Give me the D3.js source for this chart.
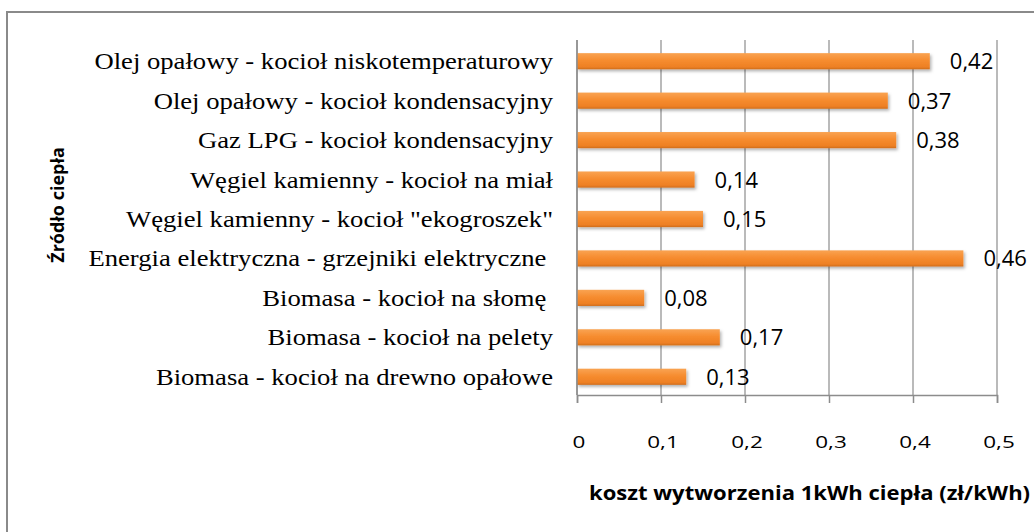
<!DOCTYPE html>
<html>
<head>
<meta charset="utf-8">
<script src="https://cdn.jsdelivr.net/npm/d3@7"></script>
<style>
    body { margin: 0; background: #fff; }
    svg { display: block; }
</style>
</head>
<body>
<div id="chart"></div>
<script>
const categories = [
    'Olej opałowy - kocioł niskotemperaturowy',
    'Olej opałowy - kocioł kondensacyjny',
    'Gaz LPG - kocioł kondensacyjny',
    'Węgiel kamienny - kocioł na miał',
    'Węgiel kamienny - kocioł "ekogroszek"',
    'Energia elektryczna - grzejniki elektryczne\u00a0',
    'Biomasa - kocioł na słomę\u00a0',
    'Biomasa - kocioł na pelety',
    'Biomasa - kocioł na drewno opałowe'
];
const values = [0.42, 0.37, 0.38, 0.14, 0.15, 0.46, 0.08, 0.17, 0.13];
const xTicks = [0, 0.1, 0.2, 0.3, 0.4, 0.5];
const xTitle = 'koszt wytworzenia 1kWh ciepła (zł/kWh)';
const yTitle = 'Źródło ciepła';

const width = 1034;
const height = 532;
const plot = { left: 577, right: 997, top: 40, bottom: 395 };

const serif = '"Liberation Serif"';
const sans = '"Open Sans"';
const fmt = v => String(v).replace('.', ',');

const svg = d3.select("#chart")
    .append("svg")
    .attr("width", width)
    .attr("height", height);

// gradient + shadow for the bars (Excel-ish look)
const defs = svg.append("defs");
const grad = defs.append("linearGradient")
    .attr("id", "barGrad")
    .attr("x1", 0).attr("y1", 0).attr("x2", 0).attr("y2", 1);
grad.append("stop").attr("offset", "0%").attr("stop-color", "#f9a352");
grad.append("stop").attr("offset", "45%").attr("stop-color", "#f68c2f");
grad.append("stop").attr("offset", "85%").attr("stop-color", "#ee8024");
grad.append("stop").attr("offset", "100%").attr("stop-color", "#cf6d1c");

const shadow = defs.append("filter")
    .attr("id", "shadow")
    .attr("x", "-5%").attr("y", "-30%")
    .attr("width", "115%").attr("height", "180%");
shadow.append("feDropShadow")
    .attr("dx", 1.5).attr("dy", 2)
    .attr("stdDeviation", 1.5)
    .attr("flood-color", "#000")
    .attr("flood-opacity", 0.3);

// chart border
svg.append("rect")
    .attr("x", 7).attr("y", 12)
    .attr("width", width + 20).attr("height", height + 20)
    .attr("fill", "none")
    .attr("stroke", "#8a8a8a")
    .attr("stroke-width", 2);

const x = d3.scaleLinear()
    .domain([0, 0.5])
    .range([plot.left, plot.right]);

const y = d3.scaleBand()
    .domain(categories)
    .range([plot.top + 1.5, plot.bottom + 1.5])
    .paddingInner(0.59)
    .paddingOuter(0.295);

// vertical gridlines
svg.append("g")
    .selectAll("line")
    .data(xTicks)
    .enter()
    .append("line")
    .attr("x1", d => x(d)).attr("x2", d => x(d))
    .attr("y1", plot.top).attr("y2", plot.bottom)
    .attr("stroke", "#8c8c8c")
    .attr("stroke-width", 1.2);

// bottom axis with ticks
const xAxis = svg.append("g")
    .attr("transform", `translate(0, ${plot.bottom})`)
    .call(d3.axisBottom(x).tickValues(xTicks).tickSize(8).tickFormat(""));
xAxis.select(".domain").attr("stroke", "#8c8c8c").attr("stroke-width", 1.5);
xAxis.selectAll(".tick line").attr("stroke", "#8c8c8c").attr("stroke-width", 1.5);

// tick labels (stretched like the original)
svg.append("g")
    .selectAll("text")
    .data(xTicks)
    .enter()
    .append("text")
    .attr("transform", d => `translate(${x(d) + 2}, 448) scale(1.45, 1)`)
    .attr("text-anchor", "middle")
    .style("font-family", sans)
    .style("font-size", "15.5px")
    .attr("fill", "#000")
    .text(d => fmt(d));

// bars
svg.append("g")
    .selectAll("rect")
    .data(values)
    .enter()
    .append("rect")
    .attr("x", x(0))
    .attr("y", (d, i) => y(categories[i]))
    .attr("width", d => x(d) - x(0))
    .attr("height", y.bandwidth())
    .attr("fill", "url(#barGrad)")
    .attr("filter", "url(#shadow)");

// left axis line
svg.append("line")
    .attr("x1", plot.left).attr("x2", plot.left)
    .attr("y1", plot.top).attr("y2", plot.bottom)
    .attr("stroke", "#8c8c8c")
    .attr("stroke-width", 1.5);

// value labels
svg.append("g")
    .selectAll("text")
    .data(values)
    .enter()
    .append("text")
    .attr("x", d => x(d) + 20)
    .attr("y", (d, i) => y(categories[i]) + y.bandwidth() / 2 + 8)
    .style("font-family", sans)
    .style("font-size", "22px")
    .attr("fill", "#000")
    .text(d => fmt(d));

// category labels
svg.append("g")
    .selectAll("text")
    .data(categories)
    .enter()
    .append("text")
    .attr("transform", d => `translate(553, ${y(d) + y.bandwidth() / 2 + 8}) scale(1.11, 1)`)
    .attr("text-anchor", "end")
    .style("font-family", serif)
    .style("font-size", "24px")
    .attr("fill", "#000")
    .text(d => d);

// axis titles
svg.append("text")
    .attr("transform", "translate(589, 500) scale(1.13, 1)")
    .style("font-family", sans)
    .style("font-weight", "bold")
    .style("font-size", "19.5px")
    .attr("fill", "#000")
    .text(xTitle);

svg.append("text")
    .attr("transform", "translate(64, 205) rotate(-90)")
    .attr("text-anchor", "middle")
    .style("font-family", sans)
    .style("font-weight", "bold")
    .style("font-size", "18px")
    .attr("fill", "#000")
    .text(yTitle);
</script>
</body>
</html>
